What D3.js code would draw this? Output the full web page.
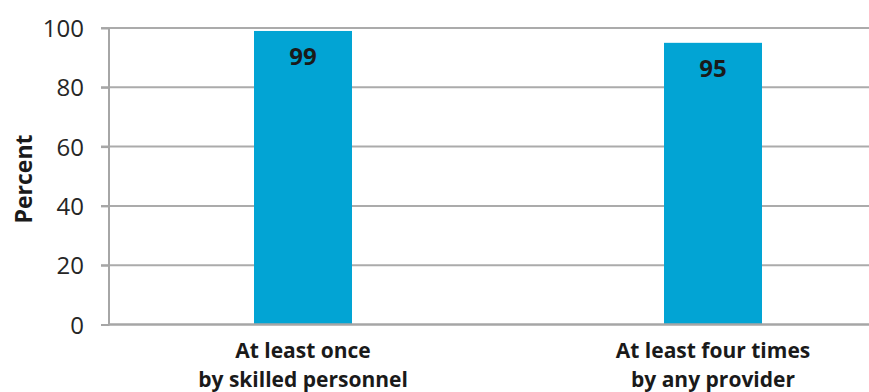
<!DOCTYPE html>
<html><head><meta charset="utf-8">
<script src="https://cdn.jsdelivr.net/npm/d3@7"></script>
<style>body{margin:0;background:#fff;overflow:hidden}svg{display:block}</style>
</head><body><svg id="c" width="869" height="392"></svg>
<script>
const categories = [["At least once","by skilled personnel"],["At least four times","by any provider"]];
const values = [99, 95];
const yTicks = [0, 20, 40, 60, 80, 100];

const svg = d3.select("#c");
const x0 = 110, yTop = 28, yBot = 324.5;
const x = d3.scaleBand().domain(d3.range(categories.length)).range([98, 918]).padding(0);
const y = d3.scaleLinear().domain([0, 100]).range([yBot, yTop]);
const barW = x.bandwidth() * 0.239;
const font = "'Open Sans', sans-serif";

// gridlines
svg.append("g").selectAll("line").data(yTicks.filter(d => d > 0)).join("line")
  .attr("x1", 101).attr("x2", 869).attr("y1", d => y(d)).attr("y2", d => y(d))
  .attr("stroke", "#ababab").attr("stroke-width", 2);

// bars
svg.append("g").selectAll("rect").data(values).join("rect")
  .attr("x", (d, i) => x(i) + x.bandwidth() / 2 - barW / 2)
  .attr("width", barW)
  .attr("y", d => y(d)).attr("height", d => y(0) - y(d))
  .attr("fill", "#02a4d4");

// y axis
const yAxis = d3.axisLeft(y).tickValues(yTicks).tickSize(8).tickPadding(17);
const ga = svg.append("g").attr("transform", `translate(${x0 - 1},0)`).call(yAxis);
ga.select(".domain").attr("stroke", "#a6a6a6").attr("stroke-width", 2).attr("d", `M0,${yTop}V${yBot + 1}`);
ga.selectAll(".tick line").attr("stroke", "#a6a6a6").attr("stroke-width", 2);
ga.selectAll(".tick text").attr("font-family", font).attr("font-size", 24).attr("fill", "#262626").attr("dy", "0.36em");

// x axis baseline
svg.append("line").attr("x1", x0 - 1).attr("x2", 869).attr("y1", yBot).attr("y2", yBot)
  .attr("stroke", "#a6a6a6").attr("stroke-width", 2.5);

// value labels
svg.append("g").selectAll("text").data(values).join("text")
  .attr("x", (d, i) => x(i) + x.bandwidth() / 2).attr("y", d => y(d) + 34)
  .attr("text-anchor", "middle").attr("font-family", font).attr("font-weight", 700)
  .attr("font-size", 24).attr("fill", "#1a1a1a").text(d => d);

// category labels
const cl = svg.append("g").selectAll("text").data(categories).join("text")
  .attr("x", (d, i) => x(i) + x.bandwidth() / 2).attr("y", 358)
  .attr("text-anchor", "middle").attr("font-family", font).attr("font-weight", 700)
  .attr("font-size", 21).attr("fill", "#1a1a1a");
cl.selectAll("tspan").data(d => d).join("tspan")
  .attr("x", function () { return this.parentNode.getAttribute("x"); })
  .attr("dy", (d, i) => i ? 29 : 0).text(d => d);

// y title
svg.append("text").attr("transform", "translate(32,179) rotate(-90)")
  .attr("text-anchor", "middle").attr("font-family", font).attr("font-weight", 700)
  .attr("font-size", 23).attr("fill", "#1a1a1a").text("Percent");
</script></body></html>
